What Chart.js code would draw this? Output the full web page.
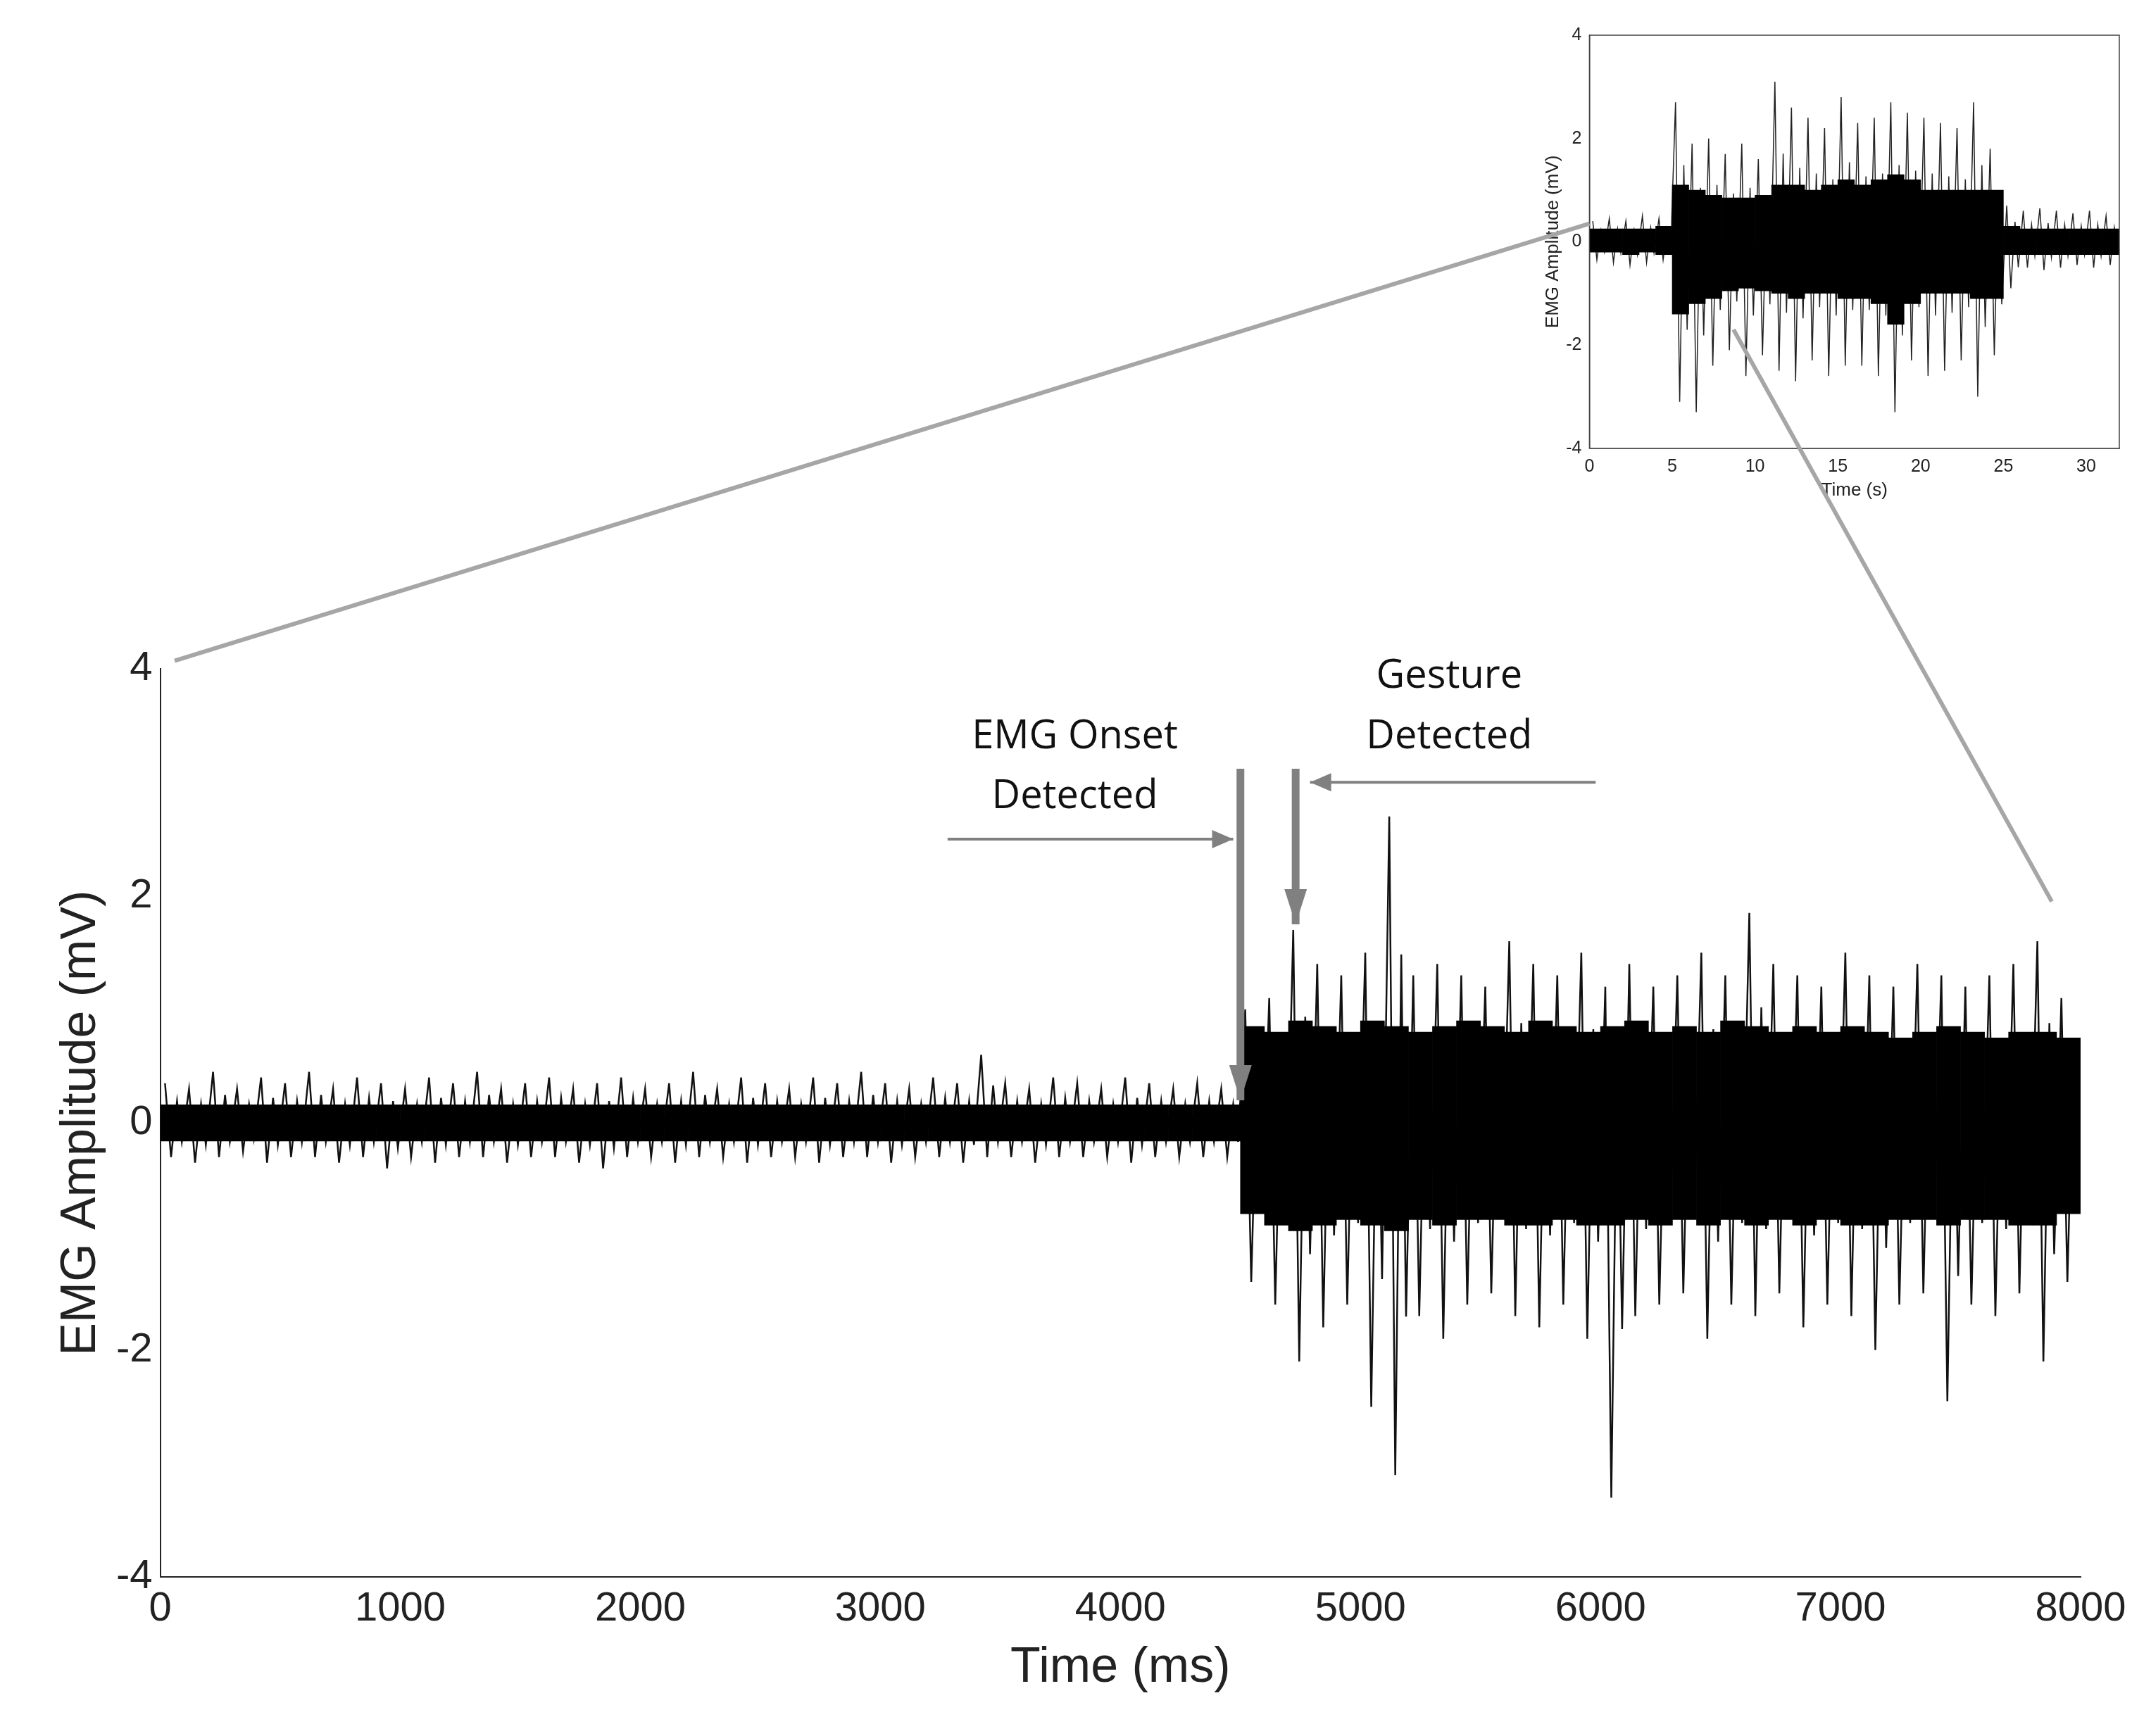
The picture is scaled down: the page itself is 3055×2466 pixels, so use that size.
<!DOCTYPE html>
<html><head><meta charset="utf-8">
<script src="https://cdn.jsdelivr.net/npm/chart.js@4"></script>
<style>
html,body{margin:0;padding:0;background:#fff;width:3055px;height:2466px;overflow:hidden}
#main{position:absolute;left:0;top:0;width:3055px;height:2466px}
#inset{position:absolute;left:2190px;top:32px;width:850px;height:700px;background:transparent}
#over{position:absolute;left:0;top:0;width:3055px;height:2466px;pointer-events:none}
</style></head><body>
<div id="main"><canvas id="c1"></canvas></div>
<div id="inset"><canvas id="c2"></canvas></div>
<canvas id="over" width="3055" height="2466"></canvas>
<script>
// ---- main chart data: per-100ms bin extreme values (mV)
const binStartMs = Array.from({length:80},(_,i)=>i*100);
const peakHigh = [0.35,0.3,0.45,0.3,0.4,0.35,0.45,0.3,0.4,0.35,0.3,0.4,0.35,0.45,0.3,0.35,0.4,0.3,0.35,0.4,0.3,0.35,0.45,0.3,0.4,0.35,0.3,0.4,0.35,0.45,0.35,0.3,0.4,0.35,0.6,0.35,0.3,0.4,0.35,0.3,0.4,0.35,0.3,0.35,0.3,
 1.0,1.1,1.7,1.4,1.3,1.5,2.7,1.3,1.4,1.3,1.2,1.6,1.4,1.3,1.5,1.2,1.4,1.2,1.3,1.5,1.3,1.85,1.4,1.3,1.2,1.5,1.3,1.2,1.4,1.3,1.2,1.3,1.4,1.6,1.1];
const peakLow = [-0.3,-0.35,-0.3,-0.25,-0.35,-0.3,-0.3,-0.35,-0.3,-0.4,-0.3,-0.35,-0.3,-0.3,-0.35,-0.3,-0.3,-0.35,-0.4,-0.3,-0.3,-0.35,-0.3,-0.3,-0.35,-0.3,-0.3,-0.35,-0.3,-0.3,-0.35,-0.3,-0.3,-0.35,-0.3,-0.3,-0.35,-0.3,-0.3,-0.3,-0.35,-0.3,-0.3,-0.3,-0.3,
 -1.4,-1.6,-2.1,-1.8,-1.6,-2.5,-3.1,-1.7,-1.9,-1.6,-1.5,-1.7,-1.8,-1.6,-1.9,-3.3,-1.7,-1.6,-1.5,-1.9,-1.6,-1.7,-1.5,-1.8,-1.6,-1.7,-2.0,-1.6,-1.5,-2.45,-1.6,-1.7,-1.5,-2.1,-1.4];
const coreHigh = [...Array(45).fill(0.16), 0.85,0.8,0.9,0.85,0.8,0.9,0.85,0.8,0.85,0.9,0.85,0.8,0.9,0.85,0.8,0.85,0.9,0.8,0.85,0.8,0.9,0.85,0.8,0.85,0.8,0.85,0.8,0.75,0.8,0.85,0.8,0.75,0.8,0.8,0.75];
const coreLow = [...Array(45).fill(-0.16), -0.8,-0.9,-0.95,-0.9,-0.85,-0.9,-0.95,-0.85,-0.9,-0.85,-0.85,-0.9,-0.9,-0.85,-0.9,-0.9,-0.85,-0.9,-0.85,-0.9,-0.85,-0.9,-0.85,-0.9,-0.85,-0.9,-0.9,-0.85,-0.85,-0.9,-0.85,-0.85,-0.9,-0.9,-0.8];
const mainXTicks = [0,1000,2000,3000,4000,5000,6000,7000,8000];
const mainYTicks = [-4,-2,0,2,4];
// ---- inset data: per-1s bin extremes
const insetBinS = Array.from({length:32},(_,i)=>i);
const insetHigh = [0.4,0.45,0.4,0.5,0.45,2.7,1.9,2.0,1.7,1.9,1.6,3.1,2.6,2.4,2.2,2.8,2.3,2.4,2.7,2.5,2.4,2.3,2.2,2.7,1.8,0.7,0.6,0.65,0.6,0.55,0.6,0.5];
const insetLow = [-0.35,-0.4,-0.45,-0.4,-0.35,-3.1,-3.3,-2.4,-2.1,-2.6,-2.2,-2.5,-2.7,-2.3,-2.6,-2.4,-2.4,-2.6,-3.3,-2.3,-2.6,-2.5,-2.3,-3.0,-2.2,-0.9,-0.5,-0.55,-0.5,-0.45,-0.5,-0.45];
const insetCoreHigh = [0.25,0.25,0.25,0.25,0.3,1.1,1.0,0.9,0.85,0.85,0.9,1.1,1.1,1.0,1.1,1.2,1.1,1.2,1.3,1.2,1.0,1.0,1.0,1.0,1.0,0.3,0.25,0.25,0.25,0.25,0.25,0.25];
const insetCoreLow = [-0.2,-0.2,-0.25,-0.2,-0.25,-1.4,-1.2,-1.1,-0.95,-0.9,-0.95,-1.0,-1.1,-1.0,-1.0,-1.1,-1.1,-1.2,-1.6,-1.2,-1.0,-1.0,-1.0,-1.1,-1.1,-0.25,-0.25,-0.25,-0.25,-0.25,-0.25,-0.25];
const insetXTicks = [0,5,10,15,20,25,30];

function zig(xs,hi,lo,w){const d=[];xs.forEach((x,i)=>{d.push({x:x+w*0.2,y:hi[i]});d.push({x:x+w*0.45,y:lo[i]});d.push({x:x+w*0.7,y:hi[i]*0.55});d.push({x:x+w*0.9,y:lo[i]*0.55});});return d;}
function core(xs,hi,lo,w){return xs.map((x,i)=>({x:x+w/2,y:[lo[i],hi[i]]}));}

const F='"Liberation Sans", Arial, sans-serif';
Chart.defaults.animation=false;
const main=new Chart(document.getElementById('c1'),{
 type:'bar',
 data:{datasets:[
  {type:'bar',data:core(binStartMs,coreHigh,coreLow,100),backgroundColor:'#000',barPercentage:1,categoryPercentage:1,grouped:false},
  {type:'line',data:zig(binStartMs,peakHigh,peakLow,100),borderColor:'#111',borderWidth:2.5,pointRadius:0,tension:0}
 ]},
 options:{responsive:true,maintainAspectRatio:false,
  layout:{padding:{left:70,top:950,right:100,bottom:50}},
  plugins:{legend:{display:false},tooltip:{enabled:false}},
  scales:{
   x:{type:'linear',min:0,max:8000,offset:false,afterBuildTicks:a=>{a.ticks=mainXTicks.map(v=>({value:v}))},
      grid:{display:false,offset:false},border:{color:'#222',width:2},
      ticks:{font:{family:F,size:58},color:'#222',maxRotation:0,callback:v=>String(v)},
      title:{display:true,text:'Time (ms)',font:{family:F,size:70},color:'#222',padding:{top:4}}},
   y:{min:-4,max:4,afterBuildTicks:a=>{a.ticks=mainYTicks.map(v=>({value:v}))},
      grid:{display:false},border:{color:'#222',width:2},
      ticks:{font:{family:F,size:58},color:'#222'},
      title:{display:true,text:'EMG Amplitude (mV)',font:{family:F,size:70},color:'#222'}}
  }}
});
const inset=new Chart(document.getElementById('c2'),{
 type:'bar',
 data:{datasets:[
  {type:'bar',data:core(insetBinS,insetCoreHigh,insetCoreLow,1),backgroundColor:'#000',barPercentage:1,categoryPercentage:1,grouped:false},
  {type:'line',data:zig(insetBinS,insetHigh,insetLow,1),borderColor:'#222',borderWidth:1.5,pointRadius:0,tension:0}
 ]},
 options:{responsive:true,maintainAspectRatio:false,
  layout:{padding:{left:0,top:5,right:30,bottom:20}},
  plugins:{legend:{display:false},tooltip:{enabled:false}},
  scales:{
   x:{type:'linear',min:0,max:32,offset:false,afterBuildTicks:a=>{a.ticks=insetXTicks.map(v=>({value:v}))},
      ticks:{font:{family:F,size:25},color:'#222',maxRotation:0},
      grid:{display:false,offset:false},border:{color:'#444',width:1.5},
      title:{display:true,text:'Time (s)',font:{family:F,size:26},color:'#222',padding:0}},
   y:{min:-4,max:4,ticks:{stepSize:2,font:{family:F,size:25},color:'#222'},
      grid:{display:false},border:{color:'#444',width:1.5},
      title:{display:true,text:'EMG Amplitude (mV)',font:{family:F,size:26},color:'#222',padding:0}}
  }},
 plugins:[{id:'box',afterDraw(c){const a=c.chartArea,x=c.ctx;x.save();x.strokeStyle='#444';x.lineWidth=1.5;x.strokeRect(a.left,a.top,a.right-a.left,a.bottom-a.top);x.restore();}}]
});

// ---- overlay annotations
const ctx=document.getElementById('over').getContext('2d');
const ix=2190, iy=32;
function mp(x,y){return [main.scales.x.getPixelForValue(x),main.scales.y.getPixelForValue(y)];}
function ip(x,y){return [ix+inset.scales.x.getPixelForValue(x),iy+inset.scales.y.getPixelForValue(y)];}
function line(a,b,w,col){ctx.strokeStyle=col;ctx.lineWidth=w;ctx.beginPath();ctx.moveTo(a[0],a[1]);ctx.lineTo(b[0],b[1]);ctx.stroke();}
function arrow(a,b,w,col,hl,hw){line(a,b,w,col);const ang=Math.atan2(b[1]-a[1],b[0]-a[0]);ctx.fillStyle=col;ctx.beginPath();ctx.moveTo(b[0],b[1]);ctx.lineTo(b[0]-hl*Math.cos(ang)+hw*Math.sin(ang),b[1]-hl*Math.sin(ang)-hw*Math.cos(ang));ctx.lineTo(b[0]-hl*Math.cos(ang)-hw*Math.sin(ang),b[1]-hl*Math.sin(ang)+hw*Math.cos(ang));ctx.closePath();ctx.fill();}
line(mp(60,4.07),ip(0,0.35),6,'#a6a6a6');
line(ip(8.7,-1.7),mp(7880,1.95),6,'#a6a6a6');
arrow(mp(4500,3.12),mp(4500,0.2),11,'#808080',50,16);
arrow(mp(4730,3.12),mp(4730,1.75),11,'#808080',50,16);
arrow(mp(3280,2.5),mp(4470,2.5),4,'#808080',30,13);
arrow(mp(5980,3.0),mp(4790,3.0),4,'#808080',30,13);
ctx.fillStyle='#111';ctx.font='56px "Open Sans", sans-serif';ctx.textAlign='center';ctx.textBaseline='middle';
let p=mp(3810,3.4);ctx.fillText('EMG Onset',p[0],p[1]);p=mp(3810,2.87);ctx.fillText('Detected',p[0],p[1]);
p=mp(5370,3.93);ctx.fillText('Gesture',p[0],p[1]);p=mp(5370,3.4);ctx.fillText('Detected',p[0],p[1]);
</script></body></html>
